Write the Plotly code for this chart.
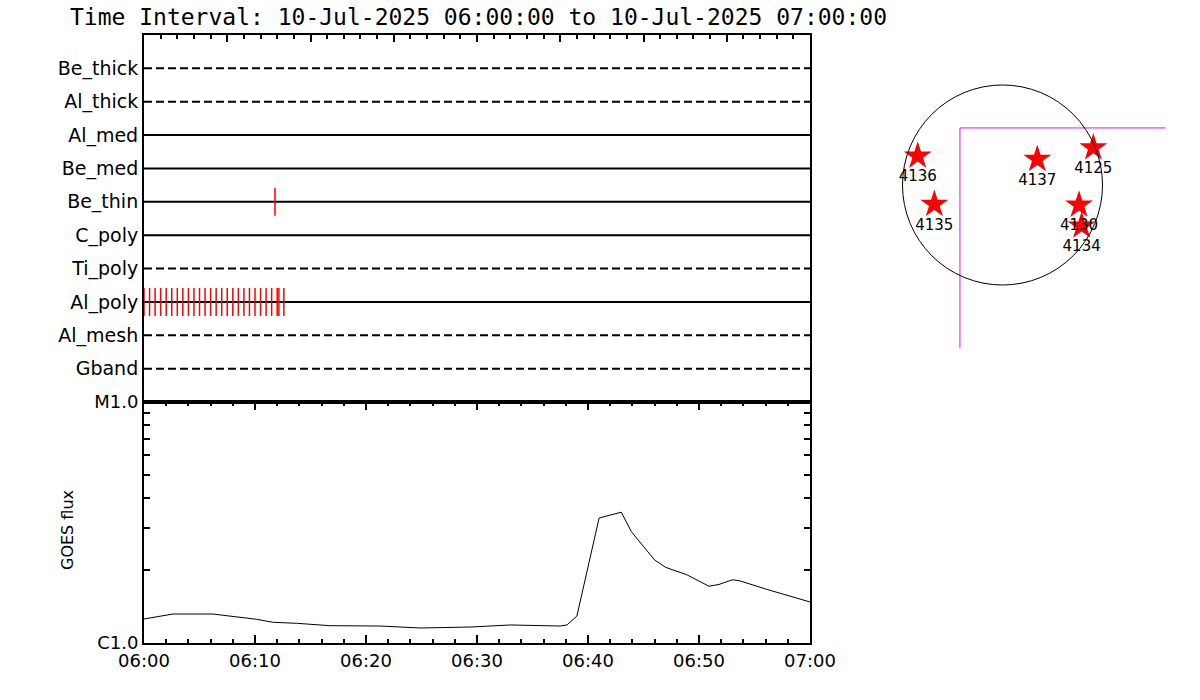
import plotly.graph_objects as go
import pandas as pd

# ---------------- data ----------------
DAY = "2025-07-10"
T_START = "06:00:00"
T_END = "07:00:00"
TITLE = "Time Interval: 10-Jul-2025 06:00:00 to 10-Jul-2025 07:00:00"

detectors = ["Be_thick", "Al_thick", "Al_med", "Be_med", "Be_thin",
             "C_poly", "Ti_poly", "Al_poly", "Al_mesh", "Gband"]
detector_dashed = [True, True, False, False, False, False, True, False, True, True]

# event times (seconds after 06:00:00) per detector
be_thin_events_s = [708]
al_poly_events_s = [0, 30, 60, 90, 120, 150, 180, 210, 240, 270, 300, 330, 360,
                    390, 420, 450, 480, 510, 540, 570, 600, 630, 660, 690, 720,
                    729, 756]

goes_time = ["06:00:00", "06:02:36", "06:06:12", "06:10:09", "06:11:36", "06:13:45",
             "06:16:45", "06:21:18", "06:24:54", "06:29:24", "06:33:00", "06:37:30",
             "06:38:06", "06:39:00", "06:41:00", "06:43:00", "06:43:54", "06:45:00",
             "06:46:00", "06:47:00", "06:48:54", "06:50:54", "06:51:48", "06:53:00",
             "06:53:42", "06:56:06", "06:58:30", "07:00:00"]
goes_flux = [1.258e-6, 1.319e-6, 1.319e-6, 1.254e-6, 1.219e-6, 1.207e-6,
             1.180e-6, 1.176e-6, 1.154e-6, 1.165e-6, 1.188e-6, 1.176e-6,
             1.188e-6, 1.294e-6, 3.30e-6, 3.49e-6, 2.90e-6, 2.51e-6,
             2.21e-6, 2.06e-6, 1.92e-6, 1.72e-6, 1.75e-6, 1.83e-6,
             1.81e-6, 1.67e-6, 1.55e-6, 1.48e-6]

goes_class_vals = [1e-6, 1e-5]
goes_class_text = ["C1.0", "M1.0"]
goes_minor_vals = [2e-6, 3e-6, 4e-6, 5e-6, 6e-6, 7e-6, 8e-6, 9e-6]

ar_numbers = ["4136", "4135", "4137", "4125", "4130", "4134"]
ar_x = [-801, -644, 329, 858, 723, 748]
ar_y = [274, -182, 243, 352, -189, -387]
rsun_arcsec = 945
fov_x = [-402, 1700]
fov_y = [-1700, 539]

# ---------------- figure ----------------
t0 = pd.Timestamp(f"{DAY} {T_START}")
t1 = pd.Timestamp(f"{DAY} {T_END}")
W, H = 1200, 700
FONT = "DejaVu Sans"

fig = go.Figure()

n = len(detectors)
row_y = [n - i for i in range(n)]

for name, dashed, yy in zip(detectors, detector_dashed, row_y):
    fig.add_trace(go.Scatter(
        x=[t0, t1], y=[yy, yy], mode="lines",
        line=dict(color="black", width=2, dash="8px,4px" if dashed else "solid"),
        xaxis="x", yaxis="y", hoverinfo="skip"))


def event_segments(secs, yy):
    xs, ys = [], []
    for s in secs:
        t = t0 + pd.to_timedelta(s, unit="s")
        xs += [t, t, None]
        ys += [yy - 0.42, yy + 0.42, None]
    return xs, ys


for name, secs in [("Be_thin", be_thin_events_s), ("Al_poly", al_poly_events_s)]:
    yy = row_y[detectors.index(name)]
    xs, ys = event_segments(secs, yy)
    fig.add_trace(go.Scatter(x=xs, y=ys, mode="lines",
                             line=dict(color="red", width=1.5),
                             xaxis="x", yaxis="y", hoverinfo="skip"))

goes_t = [pd.Timestamp(f"{DAY} {s}") for s in goes_time]
fig.add_trace(go.Scatter(x=goes_t, y=goes_flux, mode="lines",
                         line=dict(color="black", width=1),
                         xaxis="x2", yaxis="y2"))

# solar disk panel
fig.add_trace(go.Scatter(
    x=[fov_x[0], fov_x[0], fov_x[1], fov_x[1], fov_x[0]],
    y=[fov_y[0], fov_y[1], fov_y[1], fov_y[0], fov_y[0]],
    mode="lines", line=dict(color="#FF00FF", width=1),
    xaxis="x3", yaxis="y3", hoverinfo="skip"))
fig.add_trace(go.Scatter(
    x=ar_x, y=ar_y, mode="markers+text", text=ar_numbers,
    textposition="bottom center",
    textfont=dict(family=FONT, size=15, color="black"),
    marker=dict(symbol="star", size=21, color="red", line=dict(width=0)),
    xaxis="x3", yaxis="y3", cliponaxis=False))

fig.add_shape(type="circle", xref="x3", yref="y3",
              x0=-rsun_arcsec, x1=rsun_arcsec, y0=-rsun_arcsec, y1=rsun_arcsec,
              line=dict(color="black", width=1))

px_x = lambda p: p / W
px_y = lambda p: 1 - p / H

fig.update_layout(
    width=W, height=H, margin=dict(l=0, r=0, t=0, b=0, autoexpand=False),
    paper_bgcolor="white", plot_bgcolor="white", showlegend=False,
    font=dict(family=FONT, color="black", size=18),
    xaxis=dict(domain=[px_x(144), px_x(810)], anchor="y", type="date",
               automargin=False,
               range=[t0, t1], side="top", showticklabels=False,
               showline=True, mirror=True, linecolor="black", linewidth=2,
               ticks="inside", ticklen=7, tickwidth=2, tickcolor="black",
               tick0=t0, dtick=450000, showgrid=False, zeroline=False,
               minor=dict(dtick=90000, tick0=t0, ticks="inside", ticklen=4,
                          tickwidth=2, tickcolor="black", showgrid=False)),
    yaxis=dict(domain=[px_y(402), px_y(35)], anchor="x", range=[0, n + 1],
               automargin=False, tickfont=dict(size=19),
               tickmode="array", tickvals=row_y, ticktext=detectors, ticks="",
               showline=True, mirror=True, linecolor="black", linewidth=2,
               showgrid=False, zeroline=False),
    xaxis2=dict(domain=[px_x(144), px_x(810)], anchor="y2", type="date",
                automargin=False, tickfont=dict(size=18),
                range=[t0, t1], tickformat="%H:%M", tick0=t0, dtick=600000,
                ticks="inside", ticklen=8, tickwidth=2, tickcolor="black",
                mirror="allticks", showline=True, linecolor="black", linewidth=2,
                showgrid=False, zeroline=False,
                minor=dict(dtick=120000, tick0=t0, ticks="inside", ticklen=4,
                           tickwidth=2, tickcolor="black", showgrid=False)),
    yaxis2=dict(domain=[px_y(643), px_y(402)], anchor="x2", type="log",
                automargin=False, tickfont=dict(size=18),
                range=[-6, -5], tickmode="array", tickvals=goes_class_vals,
                ticktext=goes_class_text, ticks="inside", ticklen=8, tickwidth=2,
                tickcolor="black", mirror="allticks", showline=True,
                linecolor="black", linewidth=2, showgrid=False, zeroline=False,
                minor=dict(tickmode="array", tickvals=goes_minor_vals,
                           ticks="inside", ticklen=6, tickwidth=1.5,
                           tickcolor="black", showgrid=False)),
    xaxis3=dict(domain=[px_x(839.5), px_x(1165.5)], anchor="y3",
                automargin=False, range=[-1540, 1540], visible=False),
    yaxis3=dict(domain=[px_y(348), px_y(22)], anchor="x3",
                automargin=False, range=[-1540, 1540], visible=False),
    annotations=[
        dict(text=TITLE, xref="paper", yref="paper", x=px_x(68), y=px_y(17),
             xanchor="left", yanchor="middle", showarrow=False,
             font=dict(family="DejaVu Sans Mono", size=23, color="black")),
        dict(text="GOES flux", xref="paper", yref="paper", x=px_x(67),
             y=px_y(530), xanchor="center", yanchor="middle", textangle=-90,
             showarrow=False, font=dict(family=FONT, size=16, color="black")),
    ],
)

fig.write_html(
    "out.html",
    config={"displayModeBar": False},
    post_script="document.body.style.margin='0px';document.body.style.overflow='hidden';",
)
